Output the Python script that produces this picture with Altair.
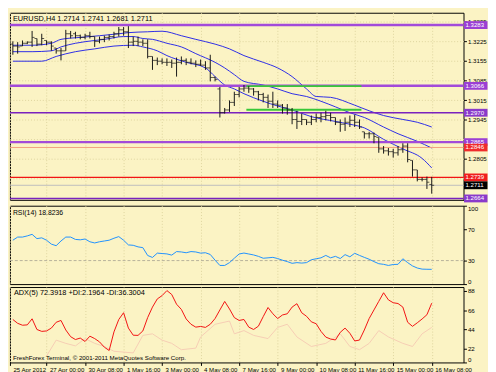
import altair as alt
import pandas as pd

# ---------------- data ----------------
symbol_header = "EURUSD,H4  1.2714 1.2741 1.2681 1.2711"
rsi_header = "RSI(14) 18.8236"
adx_header = "ADX(5) 72.3918 +DI:2.1964 -DI:36.3004"
copyright_text = "FreshForex Terminal, \u00a9 2001-2011 MetaQuotes Software Corp."

bar_open = [1.3215, 1.3208, 1.3208, 1.3218, 1.3222, 1.3235, 1.3215, 1.3228, 1.3222, 1.3201,
            1.3191, 1.3191, 1.3252, 1.3252, 1.3245, 1.3239, 1.3245, 1.3242, 1.3225, 1.3232,
            1.3239, 1.3242, 1.3252, 1.3266, 1.3259, 1.3222, 1.3225, 1.3222, 1.3218, 1.3171,
            1.3157, 1.3154, 1.3150, 1.3150, 1.3147, 1.3150, 1.3157, 1.3150, 1.3147, 1.3143,
            1.3140, 1.3130, 1.3096, 1.3055, 1.2970, 1.2980, 1.3007, 1.3035, 1.3055, 1.3058,
            1.3055, 1.3045, 1.3035, 1.3025, 1.3011, 1.3001, 1.2997, 1.2987, 1.2980, 1.2946,
            1.2939, 1.2946, 1.2936, 1.2946, 1.2953, 1.2956, 1.2960, 1.2953, 1.2936, 1.2929,
            1.2936, 1.2943, 1.2936, 1.2902, 1.2895, 1.2895, 1.2882, 1.2841, 1.2834, 1.2831,
            1.2827, 1.2838, 1.2851, 1.2800, 1.2766, 1.2732, 1.2732, 1.2714]
bar_high = [1.3225, 1.3222, 1.3228, 1.3225, 1.3262, 1.3235, 1.3252, 1.3228, 1.3225, 1.3201,
            1.3201, 1.3266, 1.3262, 1.3259, 1.3249, 1.3252, 1.3259, 1.3242, 1.3242, 1.3245,
            1.3249, 1.3259, 1.3276, 1.3276, 1.3279, 1.3242, 1.3242, 1.3232, 1.3232, 1.3171,
            1.3167, 1.3164, 1.3164, 1.3160, 1.3167, 1.3171, 1.3164, 1.3164, 1.3157, 1.3160,
            1.3154, 1.3177, 1.3099, 1.3062, 1.2987, 1.3014, 1.3045, 1.3062, 1.3069, 1.3065,
            1.3058, 1.3048, 1.3041, 1.3035, 1.3045, 1.3014, 1.3001, 1.3001, 1.2987, 1.2977,
            1.2967, 1.2946, 1.2960, 1.2967, 1.2970, 1.2977, 1.2970, 1.2953, 1.2946, 1.2953,
            1.2960, 1.2963, 1.2946, 1.2902, 1.2902, 1.2899, 1.2882, 1.2851, 1.2844, 1.2841,
            1.2851, 1.2861, 1.2861, 1.2800, 1.2766, 1.2739, 1.2742, 1.2741]
bar_low = [1.3177, 1.3181, 1.3208, 1.3215, 1.3205, 1.3208, 1.3211, 1.3211, 1.3191, 1.3181,
           1.3157, 1.3191, 1.3235, 1.3235, 1.3232, 1.3232, 1.3235, 1.3205, 1.3218, 1.3222,
           1.3228, 1.3235, 1.3242, 1.3245, 1.3201, 1.3208, 1.3208, 1.3208, 1.3164, 1.3123,
           1.3140, 1.3143, 1.3137, 1.3130, 1.3099, 1.3143, 1.3140, 1.3143, 1.3133, 1.3137,
           1.3123, 1.3082, 1.3082, 1.2953, 1.2967, 1.2973, 1.2994, 1.3025, 1.3045, 1.3041,
           1.3031, 1.3014, 1.3007, 1.2987, 1.2987, 1.2987, 1.2967, 1.2963, 1.2929, 1.2912,
           1.2926, 1.2926, 1.2926, 1.2936, 1.2936, 1.2943, 1.2939, 1.2926, 1.2902, 1.2905,
           1.2919, 1.2919, 1.2912, 1.2878, 1.2878, 1.2861, 1.2827, 1.2824, 1.2817, 1.2810,
           1.2817, 1.2827, 1.2793, 1.2742, 1.2725, 1.2725, 1.2698, 1.2681]
bar_close = [1.3208, 1.3205, 1.3218, 1.3222, 1.3239, 1.3215, 1.3235, 1.3222, 1.3208, 1.3191,
             1.3191, 1.3252, 1.3245, 1.3245, 1.3239, 1.3245, 1.3242, 1.3225, 1.3232, 1.3239,
             1.3242, 1.3252, 1.3266, 1.3259, 1.3222, 1.3225, 1.3222, 1.3218, 1.3171, 1.3157,
             1.3154, 1.3150, 1.3150, 1.3147, 1.3150, 1.3157, 1.3150, 1.3147, 1.3143, 1.3140,
             1.3130, 1.3096, 1.3089, 1.2970, 1.2980, 1.3007, 1.3035, 1.3055, 1.3058, 1.3055,
             1.3045, 1.3035, 1.3025, 1.3011, 1.3001, 1.2997, 1.2987, 1.2980, 1.2946, 1.2939,
             1.2946, 1.2936, 1.2946, 1.2953, 1.2956, 1.2960, 1.2953, 1.2936, 1.2929, 1.2936,
             1.2943, 1.2936, 1.2919, 1.2895, 1.2895, 1.2885, 1.2841, 1.2834, 1.2831, 1.2827,
             1.2838, 1.2851, 1.2803, 1.2766, 1.2732, 1.2732, 1.2722, 1.2711]

ma_upper_idx = [0, 4, 8, 10, 14, 18, 22, 24, 28, 31, 35, 38, 42, 45, 48, 52, 55, 58, 61, 63,
                66, 71, 74, 77, 81, 84, 87]
ma_upper_val = [1.3211, 1.3211, 1.3218, 1.3232, 1.3239, 1.3245, 1.3252, 1.3256, 1.3259, 1.3261,
                1.3245, 1.3232, 1.3215, 1.3198, 1.3174, 1.3150, 1.3130, 1.3099, 1.3055, 1.3028,
                1.3025, 1.2997, 1.2977, 1.2960, 1.2946, 1.2936, 1.2919]
ma_mid_idx = [0, 4, 8, 10, 13, 17, 19, 23, 25, 27, 29, 32, 35, 38, 42, 44, 46, 48, 52, 55,
              58, 61, 64, 67, 70, 73, 77, 80, 84, 87]
ma_mid_val = [1.3188, 1.3188, 1.3191, 1.3205, 1.3218, 1.3228, 1.3232, 1.3242, 1.3242, 1.3235,
              1.3232, 1.3218, 1.3205, 1.3181, 1.3150, 1.3130, 1.3106, 1.3082, 1.3069, 1.3055,
              1.3038, 1.3028, 1.3011, 1.2991, 1.2970, 1.2953, 1.2919, 1.2895, 1.2868, 1.2844]
ma_low_idx = [0, 6, 9, 13, 17, 21, 25, 27, 30, 32, 36, 40, 42, 44, 46, 48, 52, 55, 58, 62,
              67, 70, 73, 77, 81, 85, 87]
ma_low_val = [1.3154, 1.3154, 1.3171, 1.3188, 1.3198, 1.3208, 1.3211, 1.3205, 1.3191, 1.3174,
              1.3150, 1.3130, 1.3099, 1.3069, 1.3055, 1.3038, 1.3011, 1.2994, 1.2980, 1.2956,
              1.2939, 1.2929, 1.2916, 1.2875, 1.2841, 1.2807, 1.2773]

level_prices = [1.3283, 1.3066, 1.2970, 1.2865, 1.2846, 1.2739, 1.2664]
level_kinds = ["major", "major", "minor", "major", "salmon", "red", "minor"]
bid_price = [1.2711]

green_start = [48.5, 48.5]
green_end = [72.4, 72.4]
green_price = [1.3065, 1.2981]

rsi_vals = [56, 60, 60, 61.5, 63.5, 58, 59, 56, 51, 49,
            55, 60, 60, 57, 56.5, 57.5, 54, 52.5, 54, 55,
            56, 58.5, 60.6, 56, 50, 49.5, 47.5, 46.5, 36.5, 34,
            39.5, 39, 38.5, 37, 41.5, 41, 40, 41.5, 41, 39.5,
            40, 37.8, 30.5, 23.8, 23.8, 27.4, 33, 38.4, 39.6, 38.4,
            37.2, 35.4, 33, 33.5, 34.1, 32.6, 30.5, 28.7, 26.5, 27.4,
            26.8, 27.4, 31.1, 32.3, 33.5, 36.6, 33.5, 35.4, 32.6, 37.6,
            34.8, 39.3, 36.6, 34.1, 31.7, 28.7, 26.0, 25.2, 23.8, 25.0,
            25.2, 32.3, 27.4, 23.2, 20.5, 19.1, 18.9, 18.82]
rsi_levels = [30]

adx_vals = [55.2, 50.8, 48.6, 49, 56, 43.7, 41.5, 42, 45.3, 52,
            54.1, 43.1, 35.4, 32.1, 33.8, 29.9, 36, 33.2, 29.4, 23.3,
            19.5, 40.9, 55.2, 63, 45.3, 37.1, 36.9, 42, 57.4, 69.5,
            78.9, 82.7, 88.5, 84, 72.8, 66.8, 55.8, 49.7, 46.4, 47.2,
            46.1, 49.7, 56.3, 66.2, 76, 67.3, 57.4, 54.1, 55.2, 46.4,
            43.7, 47.5, 58.5, 69, 61.8, 56.3, 60.4, 61.8, 69.5, 73.4,
            62.9, 58.9, 52.5, 50.3, 41.5, 34.9, 32.7, 31.6, 40.4, 45.3,
            39.3, 30.5, 31.5, 43.1, 56.3, 66.2, 76.1, 86, 77.8, 74.5,
            73.6, 69.5, 52, 47.3, 51.4, 55.8, 60.7, 74]
di_idx = [7, 9, 11, 13, 15, 17, 19, 21, 25, 27, 29, 31, 33, 35, 38, 39, 42, 45, 46, 48,
          50, 53, 55, 57, 59, 62, 65, 68, 70, 72, 74, 76, 78, 81, 83, 85, 87]
di_vals = [13.1, 31.4, 27.7, 24.8, 33.2, 27.7, 24.1, 18.6, 16.7, 36.9, 38.7, 31.4, 27.7, 20.4,
           22.2, 35.1, 49.7, 53.4, 38.7, 42.4, 36.9, 33.2, 46.1, 49.7, 35.1, 24.1, 27.7, 38.7,
           24.1, 20.4, 27.7, 42.4, 35.1, 27.7, 24.1, 38.7, 46.1]

price_ticks = [1.3295, 1.3225, 1.3155, 1.3085, 1.3015, 1.2945, 1.2875, 1.2805, 1.2735]
hidden_price_labels = [1.2875, 1.2735]   # covered by price tags in the original
time_tick_idx = [-0.6, 7, 15, 23, 31, 39, 47, 55, 63, 71, 79, 87]
time_tick_labels = ["25 Apr 2012", "27 Apr 00:00", "30 Apr 08:00", "1 May 16:00", "3 May 00:00",
                    "4 May 08:00", "7 May 16:00", "9 May 00:00", "10 May 08:00", "11 May 16:00",
                    "15 May 00:00", "16 May 08:00"]
rsi_ticks = [0, 30, 70, 100]
adx_ticks = [88, 66, 44, 22]

# ---------------- styling / layout ----------------
BG = "#FBF3C4"
FONT = "Liberation Sans"
NARROW = "Liberation Sans Narrow, Liberation Sans"
W, H_MAIN, H_RSI, H_ADX = 463, 191, 80, 77
GUT = 25
X_DOM = [-0.6, 93.6]
P_DOM = [1.2659, 1.3327]
ADX_DOM = [5.7, 92.6]

level_style = {
    "major": dict(line="#A24AD9", width=2.5, box="#9B3FD4"),
    "minor": dict(line="#7A22BE", width=1.6, box="#8A3ACB"),
    "salmon": dict(line="#F2A07E", width=1.0, box="#F02C2C"),
    "red": dict(line="#F21414", width=1.3, box="#F01E1E"),
}

xs = alt.Scale(domain=X_DOM, nice=False, zero=False)
ps = alt.Scale(domain=P_DOM, nice=False, zero=False)
rs = alt.Scale(domain=[0, 100], nice=False, zero=False)
ads = alt.Scale(domain=ADX_DOM, nice=False, zero=False)

grid_x = alt.Axis(values=time_tick_idx, labels=False, ticks=False, domain=False,
                  grid=True, title=None)
bottom_x = alt.Axis(values=time_tick_idx, grid=True, title=None, domain=False,
                    tickSize=3, labelAlign="left", labelOffset=3, labelPadding=1,
                    labelFlush=False, labelOverlap=False, labelBound=False,
                    labelFont=NARROW, labelFontSize=6.2,
                    labelExpr="[" + ",".join("'%s'" % t for t in time_tick_labels) + "]"
                              "[indexof([" + ",".join(str(v) for v in time_tick_idx) + "], datum.value)]")
price_axis = alt.Axis(orient="right", values=price_ticks, title=None,
                      grid=True, domain=False, tickSize=3, labelPadding=1,
                      labelExpr="indexof([" + ",".join(str(v) for v in hidden_price_labels)
                                + "], datum.value) >= 0 ? '' : format(datum.value, '.4f')")
rsi_axis = alt.Axis(orient="right", values=rsi_ticks, title=None, grid=False, domain=False,
                    tickSize=3, labelPadding=1, labelFlush=True)
adx_axis = alt.Axis(orient="right", values=adx_ticks + [ADX_DOM[0]], title=None, grid=False,
                    domain=False, tickSize=3, labelPadding=1, labelFlush=True,
                    labelExpr="datum.value < 10 ? '0' : datum.label")


def X(field, axis=grid_x):
    return alt.X(field, scale=xs, axis=axis)


def P(field):
    return alt.Y(field, scale=ps, axis=price_axis)


def header(text, x, y, size=7):
    return alt.Chart(pd.DataFrame({"t": [text]})).mark_text(
        align="left", baseline="middle", fontSize=size, font=FONT, color="black"
    ).encode(x=alt.value(x), y=alt.value(y), text="t:N")


# ---------------- main price panel ----------------
bars_df = pd.DataFrame({"i": list(range(len(bar_open))), "o": bar_open, "h": bar_high,
                        "l": bar_low, "c": bar_close})
levels_df = pd.DataFrame({"p": level_prices, "kind": level_kinds})
green_df = pd.DataFrame({"a": green_start, "b": green_end, "p": green_price})
bid_df = pd.DataFrame({"p": bid_price})

main_layers = []
for idx, val in [(ma_upper_idx, ma_upper_val), (ma_mid_idx, ma_mid_val), (ma_low_idx, ma_low_val)]:
    main_layers.append(
        alt.Chart(pd.DataFrame({"i": idx, "p": val})).mark_line(
            color="#2B2BE6", strokeWidth=1, interpolate="monotone", clip=True
        ).encode(x=X("i:Q"), y=P("p:Q"))
    )

main_layers.append(
    alt.Chart(bid_df).mark_rule(color="#BDBDBD", strokeWidth=1).encode(y=P("p:Q"))
)
for kind, st in level_style.items():
    main_layers.append(
        alt.Chart(levels_df).transform_filter(alt.datum.kind == kind).mark_rule(
            color=st["line"], strokeWidth=st["width"]
        ).encode(y=P("p:Q"))
    )
main_layers.append(
    alt.Chart(green_df).mark_rule(color="#38C838", strokeWidth=2).encode(
        x=X("a:Q"), x2="b:Q", y=P("p:Q"))
)

bar_base = alt.Chart(bars_df)
main_layers.append(
    bar_base.mark_rule(color="#161616", strokeWidth=1).encode(x=X("i:Q"), y=P("l:Q"), y2="h:Q")
)
main_layers.append(
    bar_base.mark_tick(orient="horizontal", size=2.4, thickness=1, xOffset=-1.3,
                       color="#161616").encode(x=X("i:Q"), y=P("o:Q"))
)
main_layers.append(
    bar_base.mark_tick(orient="horizontal", size=2.4, thickness=1, xOffset=1.3,
                       color="#161616").encode(x=X("i:Q"), y=P("c:Q"))
)

# price tags in the right-hand scale gutter
for kind, st in level_style.items():
    main_layers.append(
        alt.Chart(levels_df).transform_filter(alt.datum.kind == kind).mark_tick(
            orient="horizontal", size=GUT - 1, thickness=8, color=st["box"], opacity=1
        ).encode(x=alt.value(W + GUT / 2), y=P("p:Q"))
    )
main_layers.append(
    alt.Chart(bid_df).mark_tick(orient="horizontal", size=GUT - 1, thickness=8,
                                color="#000000", opacity=1).encode(
        x=alt.value(W + GUT / 2), y=P("p:Q"))
)
tag_df = pd.DataFrame({"p": level_prices + bid_price})
main_layers.append(
    alt.Chart(tag_df).mark_text(align="left", baseline="middle", color="white",
                                fontSize=6.2, font=FONT).encode(
        x=alt.value(W + 2), y=P("p:Q"), text=alt.Text("p:Q", format=".4f"))
)
main_layers.append(header(symbol_header, 3, 6, size=7.5))

main = alt.layer(*main_layers).properties(width=W, height=H_MAIN)

# ---------------- RSI panel ----------------
rsi_df = pd.DataFrame({"i": list(range(len(rsi_vals))), "rsi": rsi_vals})
rsi = alt.layer(
    alt.Chart(pd.DataFrame({"rsi": rsi_levels})).mark_rule(
        color="#B5B09A", strokeDash=[3, 2], strokeWidth=1
    ).encode(y=alt.Y("rsi:Q", scale=rs, axis=rsi_axis)),
    alt.Chart(rsi_df).mark_line(color="#1E90FF", strokeWidth=1, clip=True).encode(
        x=X("i:Q"), y=alt.Y("rsi:Q", scale=rs, axis=rsi_axis)),
    header(rsi_header, 3, 7),
).properties(width=W, height=H_RSI)

# ---------------- ADX panel ----------------
adx_df = pd.DataFrame({"i": list(range(len(adx_vals))), "adx": adx_vals})
di_df = pd.DataFrame({"i": di_idx, "adx": di_vals})
adx = alt.layer(
    alt.Chart(di_df).mark_line(color="#F6CDB4", strokeWidth=1, clip=True).encode(
        x=X("i:Q", bottom_x), y=alt.Y("adx:Q", scale=ads, axis=adx_axis)),
    alt.Chart(adx_df).mark_line(color="#F21010", strokeWidth=1, clip=True).encode(
        x=X("i:Q", bottom_x), y=alt.Y("adx:Q", scale=ads, axis=adx_axis)),
    header(adx_header, 4, 6, size=7.5),
    header(copyright_text, 3, H_ADX - 5, size=6.3),
).properties(width=W, height=H_ADX)

chart = alt.vconcat(main, rsi, adx, spacing=1).resolve_scale(
    y="independent"
).configure(
    background=BG, padding=0, font=FONT
).configure_view(
    stroke="black", strokeWidth=1, fill=BG
).configure_axis(
    labelFont=FONT, labelFontSize=6.3, labelColor="black", tickColor="black",
    tickWidth=1, gridColor="#DDD49E", gridDash=[1, 2], gridWidth=1
)

chart.save("out.html", embed_options={"renderer": "svg", "actions": False})
